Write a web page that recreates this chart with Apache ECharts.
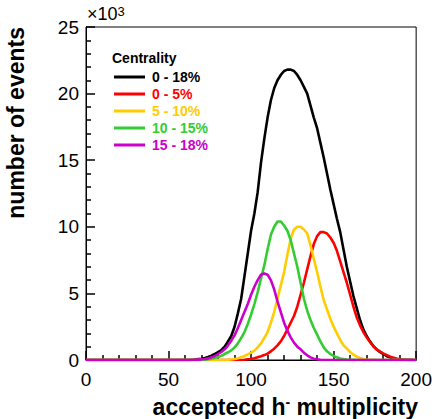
<!DOCTYPE html>
<html>
<head>
<meta charset="utf-8">
<script src="https://cdn.jsdelivr.net/npm/echarts@6/dist/echarts.min.js"></script>
<style>
html,body{margin:0;padding:0;background:#fff;}
#chart{width:435px;height:419px;}
</style>
</head>
<body>
<div id="chart"></div>
<script>
// multiplicity bin centres (x)
const xs = [0,
  60,62,64,66,68,70,72,74,76,78,
  80,82,84,86,88,90,92,94,96,98,
  100,102,104,106,108,110,112,114,116,118,
  120,122,124,126,128,130,132,134,136,138,
  140,142,144,146,148,150,152,154,156,158,
  160,162,164,166,168,170,172,174,176,178,
  180,182,184,186,188,190,192,194,196,198,
  200];

// number of events (x10^3)
const c0_18 = [0,
  0,0,0.02,0.04,0.07,0.1,0.15,0.22,0.32,0.45,
  0.6,0.75,1.0,1.4,1.8,2.5,3.5,4.6,6.3,8.0,
  9.7,11.0,12.6,14.8,16.6,18.2,19.5,20.4,21.0,21.4,
  21.7,21.8,21.8,21.7,21.4,21.0,20.5,20.0,19.1,18.2,
  17.4,16.3,15.2,14.0,12.8,11.7,10.6,9.6,8.3,7.0,
  5.9,4.8,3.9,3.0,2.3,1.8,1.4,1.05,0.8,0.6,
  0.45,0.3,0.2,0.13,0.08,0.05,0.03,0.02,0.01,0,
  0];
const c0_5 = [0,
  0,0,0,0,0,0,0,0,0,0,
  0,0,0,0,0,0,0,0,0.02,0.05,
  0.08,0.13,0.2,0.28,0.37,0.48,0.65,0.85,1.1,1.4,
  1.8,2.3,2.8,3.3,4.0,4.9,5.8,6.8,7.8,8.7,
  9.3,9.6,9.6,9.5,9.2,8.8,8.2,7.4,6.6,5.8,
  4.9,4.0,3.2,2.6,2.1,1.7,1.35,1.05,0.8,0.65,
  0.5,0.38,0.27,0.18,0.11,0.06,0.03,0.01,0,0,
  0];
const c5_10 = [0,
  0,0,0,0,0,0,0,0,0,0,
  0,0,0,0.02,0.04,0.08,0.13,0.2,0.3,0.42,
  0.55,0.7,0.95,1.25,1.65,2.1,2.8,3.6,4.6,5.6,
  6.6,7.9,9.1,9.8,10.0,10.0,9.8,9.5,8.6,7.6,
  6.6,5.5,4.5,3.8,3.1,2.5,2.0,1.5,1.1,0.85,
  0.6,0.4,0.25,0.15,0.08,0.04,0.02,0.01,0,0,
  0,0,0,0,0,0,0,0,0,0,
  0];
const c10_15 = [0,
  0,0,0,0,0,0.02,0.03,0.06,0.1,0.15,
  0.22,0.32,0.45,0.58,0.72,0.95,1.25,1.65,2.1,2.7,
  3.4,4.2,5.1,6.1,7.1,8.3,9.4,10.0,10.4,10.4,
  10.1,9.7,9.0,8.0,7.0,5.8,4.6,3.7,3.0,2.4,
  1.9,1.4,0.95,0.65,0.45,0.3,0.2,0.12,0.07,0.04,
  0.02,0.01,0,0,0,0,0,0,0,0,
  0,0,0,0,0,0,0,0,0,0,
  0];
const c15_18 = [0,
  0,0,0,0.02,0.03,0.05,0.08,0.12,0.2,0.3,
  0.45,0.6,0.8,1.1,1.45,1.85,2.4,3.0,3.6,4.2,
  4.9,5.5,6.0,6.4,6.5,6.4,6.0,5.3,4.4,3.6,
  2.8,2.2,1.7,1.3,1.0,0.8,0.55,0.35,0.2,0.1,
  0.05,0.02,0,0,0,0,0,0,0,0,
  0,0,0,0,0,0,0,0,0,0,
  0,0,0,0,0,0,0,0,0,0,
  0];

const seriesNames = ['0 - 18%', '0 - 5%', '5 - 10%', '10 - 15%', '15 - 18%'];
const seriesValues = [c0_18, c0_5, c5_10, c10_15, c15_18];
const seriesColors = ['#000000', '#ff0000', '#ffcc00', '#33cc33', '#cc00cc'];
const xTicks = [0, 50, 100, 150, 200];
const yTicks = [0, 5, 10, 15, 20, 25];

const FONT = '"Liberation Sans", Arial, Helvetica, sans-serif';

const chart = echarts.init(document.getElementById('chart'), null, {renderer: 'svg'});

const series = seriesNames.map((n, i) => ({
  name: n,
  type: 'line',
  data: xs.map((x, j) => [x, seriesValues[i][j]]),
  showSymbol: false,
  color: seriesColors[i],
  lineStyle: {width: 2.6, color: seriesColors[i]},
  z: 2 + i
}));

const tickStyle = {color: '#000', width: 1.5};

chart.setOption({
  animation: false,
  backgroundColor: '#ffffff',
  grid: {left: 86, right: 17, top: 27, bottom: 59, show: true, borderColor: '#000', borderWidth: 1},
  xAxis: {
    type: 'value', min: xTicks[0], max: xTicks[xTicks.length - 1], interval: 50,
    axisLine: {show: true, lineStyle: {color: '#000', width: 1}},
    axisTick: {show: true, inside: true, length: 9, lineStyle: tickStyle},
    minorTick: {show: true, splitNumber: 5, length: 5, lineStyle: tickStyle},
    splitLine: {show: false},
    axisLabel: {fontSize: 19, color: '#000', fontFamily: FONT, margin: 10}
  },
  yAxis: {
    type: 'value', min: yTicks[0], max: yTicks[yTicks.length - 1], interval: 5,
    axisLine: {show: true, lineStyle: {color: '#000', width: 1}},
    axisTick: {show: true, inside: true, length: 9, lineStyle: tickStyle},
    minorTick: {show: true, splitNumber: 5, length: 5, lineStyle: tickStyle},
    splitLine: {show: false},
    axisLabel: {fontSize: 19, color: '#000', fontFamily: FONT, margin: 7}
  },
  legend: {
    orient: 'vertical', left: 114, top: 70, padding: 0,
    icon: 'rect', itemWidth: 31, itemHeight: 3, itemGap: 3,
    textStyle: {fontSize: 14, fontWeight: 'bold', fontFamily: FONT, padding: [0, 0, 0, 2]},
    data: seriesNames.map((n, i) => ({name: n, textStyle: {color: seriesColors[i]}})),
    selectedMode: false
  },
  graphic: [
    {type: 'text', left: 112, top: 51, style: {text: 'Centrality', fontSize: 14, fontWeight: 'bold', fontFamily: FONT, fill: '#000'}},
    {type: 'text', x: 87, y: 5, style: {text: '×10{s|3}', fontSize: 18, fontFamily: FONT, fill: '#000',
      rich: {s: {fontSize: 13, fontFamily: FONT, fill: '#000', verticalAlign: 'top'}}}},
    {type: 'text', x: 27, y: 27, rotation: Math.PI / 2,
      style: {text: 'number of events', fontSize: 23, fontWeight: 'bold', fontFamily: FONT, fill: '#000', align: 'right', verticalAlign: 'bottom'}},
    {type: 'text', x: 418, y: 395,
      style: {text: 'acceptecd h{s|-} multiplicity', fontSize: 23, fontWeight: 'bold', fontFamily: FONT, fill: '#000', align: 'right', verticalAlign: 'top',
        rich: {s: {fontSize: 14, fontWeight: 'bold', fontFamily: FONT, fill: '#000', verticalAlign: 'top'}}}}
  ],
  series: series
});
</script>
</body>
</html>
